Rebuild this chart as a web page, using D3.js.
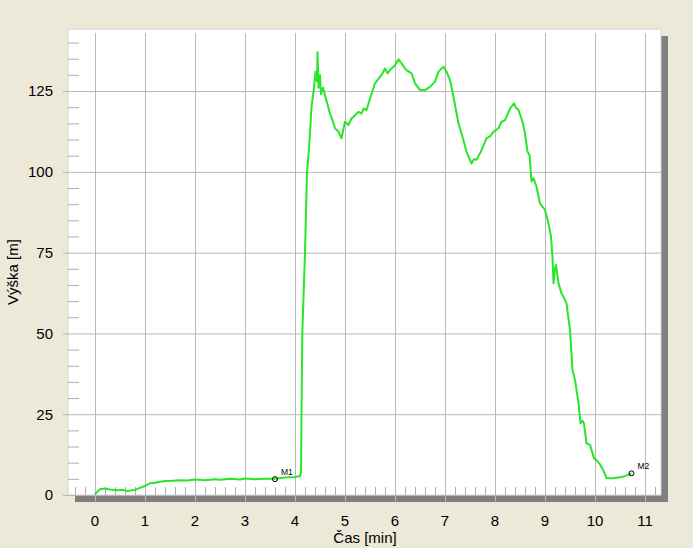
<!DOCTYPE html>
<html>
<head>
<meta charset="utf-8">
<script src="https://cdn.jsdelivr.net/npm/d3@7"></script>
<style>
  body { margin: 0; background: #ece9d8; }
  #chart { width: 693px; height: 548px; }
  text { font-family: Arial, "Liberation Sans", sans-serif; }
</style>
</head>
<body>
<div id="chart"></div>
<script>
// time [min] and altitude [m]
const times = [0, 0.03, 0.1, 0.2, 0.3, 0.45, 0.55, 0.65, 0.8, 0.9, 1.0, 1.1, 1.2, 1.3, 1.4, 1.55, 1.7, 1.85, 2.0, 2.2, 2.4, 2.5, 2.7, 2.9, 3.0, 3.2, 3.4, 3.6, 3.8, 4.0, 4.1,
  4.12, 4.13, 4.146, 4.2, 4.24, 4.28, 4.33, 4.38, 4.41, 4.44, 4.45, 4.47, 4.5, 4.52, 4.56, 4.63, 4.7, 4.75, 4.8, 4.87, 4.93, 5.0, 5.07, 5.13, 5.2, 5.27, 5.33, 5.37, 5.43,
  5.5, 5.6, 5.7, 5.75, 5.8, 5.85, 5.9, 6.0, 6.07, 6.13, 6.2, 6.23, 6.3, 6.33, 6.4, 6.5, 6.6, 6.7, 6.8, 6.87, 6.93, 6.97, 7.03, 7.1, 7.17, 7.22, 7.27, 7.37, 7.43,
  7.53, 7.58, 7.63, 7.73, 7.83, 7.9, 7.97, 8.07, 8.13, 8.2, 8.23, 8.3, 8.38, 8.42, 8.47, 8.55, 8.6, 8.65, 8.69, 8.73, 8.77, 8.83, 8.9, 9.0, 9.07, 9.12, 9.15,
  9.17, 9.2, 9.22, 9.27, 9.33, 9.38, 9.43, 9.5, 9.55, 9.6, 9.67, 9.71, 9.75, 9.78, 9.83, 9.9, 9.98, 10.03, 10.1, 10.17, 10.23, 10.37, 10.5, 10.57, 10.73];
const heights = [0.2, 0.8, 1.8, 2.0, 1.7, 1.5, 1.6, 1.2, 1.6, 2.2, 2.8, 3.6, 3.8, 4.1, 4.3, 4.4, 4.6, 4.5, 4.8, 4.6, 4.9, 4.7, 5.0, 4.8, 5.1, 4.9, 5.0, 5.0, 5.4, 5.6, 5.9,
  7, 25, 50, 75, 100, 107, 120, 126, 131, 128, 137, 126, 130, 124, 126, 122, 118, 116, 113.5, 112.4, 110.4, 115.5, 114.5, 116.5, 117.5, 118.6, 118, 119.6, 119.1,
  122.7, 127.4, 129.4, 130.5, 132, 130.5, 131.5, 133, 134.8, 133.6, 132, 131.5, 130.8, 130.5, 127.4, 125.3, 125.3, 126.3, 127.9, 131, 132, 132.5, 131, 128.4, 123.2, 119, 115,
  109.8, 106.2, 102.6, 104, 103.7, 106.7, 110.4, 111, 112.4, 113.5, 115.5, 116, 117, 119.6, 121.2, 119.8, 119.1, 115.5, 111.9, 106.2, 105.2, 97, 98, 95.4, 90.2, 88.2, 84, 79.9, 73.7,
  65.5, 70, 71.2, 65.5, 62.4, 61, 59.3, 51, 38.7, 35.6, 28.4, 22.2, 23, 22.2, 16, 15.5, 11.4, 10.8, 9.5, 7.5, 5.2, 5.2, 5.5, 5.7, 6.7];

const xTicks = d3.range(0, 12, 1);
const yTicks = [0, 25, 50, 75, 100, 125];
const xMinor = d3.range(-0.4, 11.3, 0.2);
const yMinor = d3.range(5, 145, 5);
const markers = [
  { name: "M1", t: 3.6, h: 4.9 },
  { name: "M2", t: 10.73, h: 6.7 }
];

const width = 693, height = 548;
const pLeft = 68, pRight = 661, pTop = 29, pBottom = 495;

const svg = d3.select("#chart").append("svg")
  .attr("width", width)
  .attr("height", height);

svg.append("rect").attr("width", width).attr("height", height).attr("fill", "#ece9d8");

const x = d3.scaleLinear().domain([-0.54, 11.32]).range([pLeft, pRight]);
const y = d3.scaleLinear().domain([0, 144.2]).range([pBottom, pTop]);

// shadow
svg.append("rect")
  .attr("x", pLeft + 7).attr("y", pTop + 7)
  .attr("width", pRight - pLeft).attr("height", pBottom - pTop)
  .attr("fill", "#808080");

svg.append("rect")
  .attr("x", pLeft).attr("y", pTop)
  .attr("width", pRight - pLeft).attr("height", pBottom - pTop)
  .attr("fill", "#fff")
  .attr("stroke", "#d4d4d4");

// grid via axes
const xGrid = d3.axisBottom(x).tickValues(xTicks).tickSize(-(pBottom - pTop) - 4).tickFormat("");
svg.append("g")
  .attr("class", "grid")
  .attr("transform", `translate(0, ${pBottom + 8})`)
  .call(xGrid);

const yGrid = d3.axisLeft(y).tickValues(yTicks).tickSize(-(pRight - pLeft) - 5).tickFormat("");
svg.append("g")
  .attr("class", "grid")
  .attr("transform", `translate(${pLeft - 5}, 0)`)
  .call(yGrid);

svg.selectAll(".grid .domain").remove();
svg.selectAll(".grid line").attr("stroke", "#b8b8b8").attr("stroke-width", 1);

// minor ticks
const xMinorAxis = d3.axisTop(x).tickValues(xMinor.filter(d => Math.abs(d - Math.round(d)) > 0.01)).tickSize(8).tickFormat("");
svg.append("g")
  .attr("class", "minor")
  .attr("transform", `translate(0, ${pBottom})`)
  .call(xMinorAxis);

const yMinorAxis = d3.axisRight(y).tickValues(yMinor.filter(d => d % 25 !== 0)).tickSize(11).tickFormat("");
svg.append("g")
  .attr("class", "minor")
  .attr("transform", `translate(${pLeft}, 0)`)
  .call(yMinorAxis);

svg.selectAll(".minor .domain").remove();
svg.selectAll(".minor line").attr("stroke", "#b0b0b0");

// tick labels
svg.append("g")
  .selectAll("text")
  .data(xTicks)
  .enter()
  .append("text")
  .attr("x", d => x(d))
  .attr("y", 526)
  .attr("text-anchor", "middle")
  .attr("font-size", 15)
  .attr("fill", "#000")
  .text(d => d);

svg.append("g")
  .selectAll("text")
  .data(yTicks)
  .enter()
  .append("text")
  .attr("x", 53)
  .attr("y", d => y(d))
  .attr("dy", "0.36em")
  .attr("text-anchor", "end")
  .attr("font-size", 15)
  .attr("fill", "#000")
  .text(d => d);

// axis titles
svg.append("text")
  .attr("x", 365)
  .attr("y", 543)
  .attr("text-anchor", "middle")
  .attr("font-size", 15)
  .text("Čas [min]");

svg.append("text")
  .attr("transform", "translate(18, 272) rotate(-90)")
  .attr("text-anchor", "middle")
  .attr("font-size", 15)
  .text("Výška [m]");

// altitude line
const pts = times.map((t, i) => [t, heights[i]]);
const line = d3.line()
  .x(d => x(d[0]))
  .y(d => y(d[1]));

svg.append("path")
  .datum(pts)
  .attr("d", line)
  .attr("fill", "none")
  .attr("stroke", "#28e628")
  .attr("stroke-width", 2)
  .attr("stroke-linejoin", "round");

// markers
const mk = svg.append("g").selectAll("g")
  .data(markers)
  .enter()
  .append("g")
  .attr("transform", d => `translate(${x(d.t)}, ${y(d.h)})`);

mk.append("circle")
  .attr("r", 2.5)
  .attr("fill", "none")
  .attr("stroke", "#000")
  .attr("stroke-width", 1);

mk.append("text")
  .attr("x", 6)
  .attr("y", -4)
  .attr("font-size", 8.5)
  .text(d => d.name);
</script>
</body>
</html>
